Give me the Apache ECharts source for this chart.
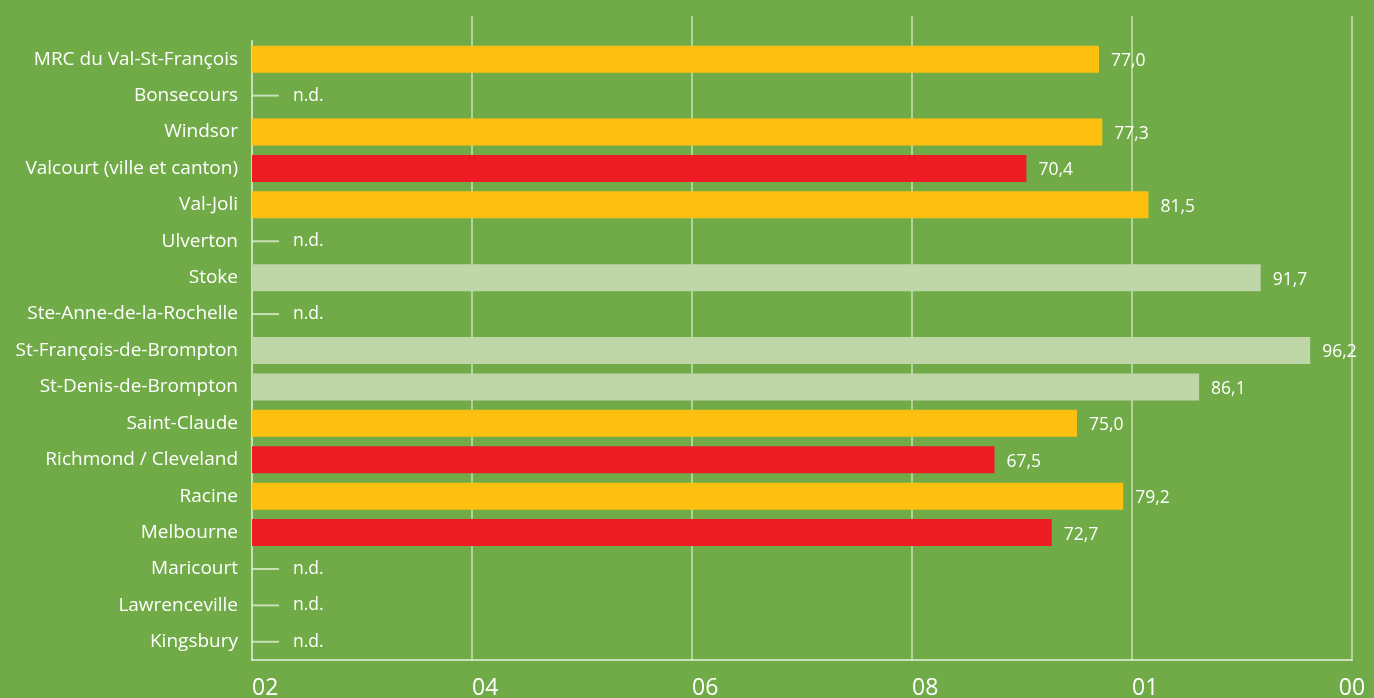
<!DOCTYPE html>
<html>
<head>
<meta charset="utf-8">
<script src="https://cdn.jsdelivr.net/npm/echarts@6/dist/echarts.min.js"></script>
<style>
  html, body { margin: 0; padding: 0; background: #70ab48; }
  #chart { width: 1374px; height: 698px; }
</style>
</head>
<body>
<div id="chart"></div>
<script>
// top to bottom, as shown
const categories = [
  'MRC du Val-St-François', 'Bonsecours', 'Windsor', 'Valcourt (ville et canton)',
  'Val-Joli', 'Ulverton', 'Stoke', 'Ste-Anne-de-la-Rochelle',
  'St-François-de-Brompton', 'St-Denis-de-Brompton', 'Saint-Claude',
  'Richmond / Cleveland', 'Racine', 'Melbourne', 'Maricourt',
  'Lawrenceville', 'Kingsbury'
]
// null = n.d.
const values = [77.0, null, 77.3, 70.4, 81.5, null, 91.7, null, 96.2, 86.1, 75.0, 67.5, 79.2, 72.7, null, null, null]
const levels = ['mid', 'nd', 'mid', 'low', 'mid', 'nd', 'high', 'nd', 'high', 'high', 'mid', 'low', 'mid', 'low', 'nd', 'nd', 'nd']
const ndStub = 2.45
const tickLabels = ['02', '04', '06', '08', '01', '00']

const LEVEL_COLORS = {
  low: '#ed1c24',
  mid: '#fec010',
  high: '#bfd6a9'
}
const LINE_COLOR = 'rgba(230, 242, 220, 0.75)'
const FONT = '"Open Sans", "Noto Sans", sans-serif'

const chart = echarts.init(document.getElementById('chart'))

const barData = values.map((v, i) => {
  if (v === null) return null
  return { value: v, itemStyle: { color: LEVEL_COLORS[levels[i]] } }
})
const ndData = values.map(v => (v === null ? ndStub : null))

const option = {
  backgroundColor: '#70ab48',
  animation: false,
  grid: [
    { left: 252, right: 22, top: 41, bottom: 38, outerBoundsMode: 'none' },
    { left: 252, right: 22, top: 16, bottom: 38, outerBoundsMode: 'none' }
  ],
  xAxis: [
    {
      type: 'value',
      gridIndex: 0,
      min: 0,
      max: 100,
      interval: 20,
      splitLine: { show: false },
      axisLine: { show: true, lineStyle: { color: LINE_COLOR, width: 2 } },
      axisTick: { show: false },
      axisLabel: {
        color: '#ffffff',
        fontFamily: FONT,
        fontSize: 23,
        margin: 17,
        align: 'left',
        alignMaxLabel: 'center',
        formatter: (val) => tickLabels[Math.round(val / 20)]
      }
    },
    {
      type: 'value',
      gridIndex: 1,
      min: 0,
      max: 100,
      interval: 20,
      axisLine: { show: false },
      axisTick: { show: false },
      axisLabel: { show: false },
      splitLine: { show: true, showMinLine: false, lineStyle: { color: LINE_COLOR, width: 1.5 } }
    }
  ],
  yAxis: [
    {
      type: 'category',
      gridIndex: 0,
      data: categories,
      inverse: true,
      axisLine: { show: true, lineStyle: { color: LINE_COLOR, width: 2 } },
      axisTick: { show: false },
      axisLabel: {
        color: '#ffffff',
        fontFamily: FONT,
        fontSize: 19,
        margin: 14
      }
    },
    {
      type: 'category',
      gridIndex: 1,
      data: categories,
      show: false
    },
    {
      // separate axis so the n.d. stubs do not share band space with the bars
      type: 'category',
      gridIndex: 0,
      data: categories,
      inverse: true,
      show: false
    }
  ],
  series: [
    {
      type: 'bar',
      xAxisIndex: 0,
      yAxisIndex: 0,
      data: barData,
      barWidth: 27,
      label: {
        show: true,
        position: 'right',
        distance: 12,
        offset: [0, 2],
        color: '#ffffff',
        fontFamily: FONT,
        fontSize: 17.5,
        formatter: (p) => p.value.toFixed(1).replace('.', ',')
      }
    },
    {
      type: 'bar',
      xAxisIndex: 0,
      yAxisIndex: 2,
      data: ndData,
      barWidth: 2,
      itemStyle: { color: LINE_COLOR },
      label: {
        show: true,
        position: 'right',
        distance: 14,
        color: '#ffffff',
        fontFamily: FONT,
        fontSize: 17.5,
        formatter: 'n.d.'
      }
    }
  ]
}

chart.setOption(option)
</script>
</body>
</html>
